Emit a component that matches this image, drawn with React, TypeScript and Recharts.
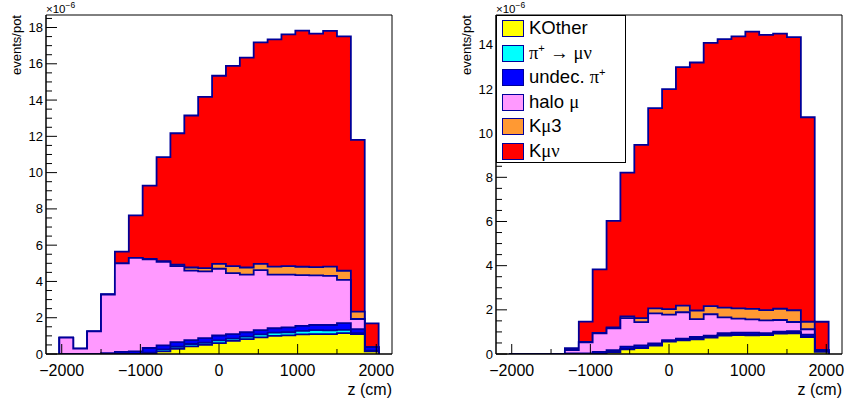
import React from 'react';
import { AreaChart, Area, XAxis, YAxis, ReferenceArea } from 'recharts';

// bin edges along z (cm), 23 bins
const binEdges = [-2030, -1854, -1677, -1500, -1324, -1147, -971, -794, -618, -441, -265, -88, 88, 265, 441, 618, 794, 971, 1147, 1324, 1500, 1677, 1853, 2030];

// left pad: top of each stack layer per bin, as drawn (units of 1e-6 events/pot)
const leftKmunu = [0.9, 0.3, 1.25, 3.28, 5.64, 7.64, 9.28, 10.85, 12.17, 13.15, 14.18, 15.34, 15.88, 16.34, 17.18, 17.35, 17.62, 17.83, 17.66, 17.81, 17.51, 11.8, 1.69];
const leftKmu3 = [0.9, 0.3, 1.25, 3.28, 5.0, 5.3, 5.25, 5.12, 4.92, 4.77, 4.73, 4.97, 4.84, 4.77, 4.97, 4.82, 4.84, 4.81, 4.79, 4.82, 4.59, 2.34, 0.38];
const leftHalo = [0.9, 0.3, 1.25, 3.28, 5.0, 5.3, 5.22, 5.08, 4.84, 4.6, 4.55, 4.7, 4.46, 4.38, 4.62, 4.38, 4.38, 4.35, 4.33, 4.31, 4.09, 1.93, 0.38];
const leftUndec = [0, 0, 0, 0.05, 0.12, 0.15, 0.33, 0.48, 0.65, 0.77, 0.87, 1.02, 1.1, 1.2, 1.32, 1.42, 1.47, 1.55, 1.6, 1.6, 1.7, 1.37, 0.38];
const leftPiMuNu = [0, 0, 0, 0, 0, 0, 0.08, 0.26, 0.4, 0.55, 0.62, 0.75, 0.85, 0.96, 1.08, 1.18, 1.2, 1.28, 1.32, 1.3, 1.33, 1.15, 0.18];
const leftKOther = [0, 0, 0, 0, 0, 0, 0.05, 0.15, 0.28, 0.42, 0.5, 0.6, 0.72, 0.82, 0.92, 1.0, 1.03, 1.08, 1.1, 1.1, 1.15, 1.1, 0.15];

// right pad
const rightKmunu = [0, 0, 0, 0, 0.26, 1.47, 3.83, 6.03, 8.21, 9.47, 11.13, 11.99, 12.99, 13.2, 14.09, 14.26, 14.38, 14.6, 14.45, 14.51, 14.35, 10.72, 1.46];
const rightKmu3 = [0, 0, 0, 0, 0.2, 0.55, 0.96, 1.2, 1.7, 1.62, 2.07, 2.03, 2.19, 1.97, 2.17, 2.1, 2.07, 2.04, 1.99, 2.05, 1.98, 1.46, 0.18];
const rightHalo = [0, 0, 0, 0, 0.18, 0.53, 0.94, 1.16, 1.62, 1.44, 1.84, 1.78, 1.89, 1.58, 1.8, 1.66, 1.6, 1.57, 1.52, 1.54, 1.45, 1.12, 0.18];
const rightUndec = [0, 0, 0, 0, 0.03, 0.03, 0.1, 0.18, 0.33, 0.39, 0.48, 0.63, 0.69, 0.77, 0.83, 0.94, 0.97, 0.97, 0.94, 1.01, 1.04, 0.88, 0.18];
const rightPiMuNu = [0, 0, 0, 0, 0, 0, 0, 0.1, 0.23, 0.29, 0.4, 0.58, 0.64, 0.68, 0.77, 0.86, 0.89, 0.88, 0.89, 0.95, 0.97, 0.79, 0.11];
const rightKOther = [0, 0, 0, 0, 0, 0, 0, 0.08, 0.21, 0.27, 0.38, 0.56, 0.62, 0.66, 0.74, 0.83, 0.86, 0.85, 0.86, 0.92, 0.94, 0.77, 0.1];

const xTicks = [-2000, -1500, -1000, -500, 0, 500, 1000, 1500, 2000];
const leftYTicks = [0, 0.5, 1, 1.5, 2, 2.5, 3, 3.5, 4, 4.5, 5, 5.5, 6, 6.5, 7, 7.5, 8, 8.5, 9, 9.5, 10, 10.5, 11, 11.5, 12, 12.5, 13, 13.5, 14, 14.5, 15, 15.5, 16, 16.5, 17, 17.5, 18, 18.5];
const rightYTicks = [0, 0.5, 1, 1.5, 2, 2.5, 3, 3.5, 4, 4.5, 5, 5.5, 6, 6.5, 7, 7.5, 8, 8.5, 9, 9.5, 10, 10.5, 11, 11.5, 12, 12.5, 13, 13.5, 14, 14.5, 15];

// drawn tallest first, like a ROOT THStack
const layers = [
  { key: 'kmunu', label: 'Kμν', color: '#ff0000' },
  { key: 'kmu3', label: 'Kμ3', color: '#ff9933' },
  { key: 'halo', label: 'halo μ', color: '#ff99ff' },
  { key: 'undec', label: 'undec. π+', color: '#0000ff' },
  { key: 'pimunu', label: 'π+ → μν', color: '#00ffff' },
  { key: 'kother', label: 'KOther', color: '#ffff00' },
];

const LINE = '#000099';
const FONT = '"Liberation Sans", Arial, Helvetica, sans-serif';
const GREEK = '"Liberation Serif", "DejaVu Serif", serif';

const buildRows = (tops: Record<string, number[]>) => {
  const zero: Record<string, number> = {};
  layers.forEach(l => { zero[l.key] = 0; });
  const rows: any[] = [{ z: binEdges[0], ...zero }];
  for (let i = 0; i < binEdges.length - 1; i++) {
    const r: any = { z: binEdges[i] };
    layers.forEach(l => { r[l.key] = tops[l.key][i]; });
    rows.push(r);
  }
  rows.push({ z: binEdges[binEdges.length - 1], ...zero });
  return rows;
};

const leftRows = buildRows({ kmunu: leftKmunu, kmu3: leftKmu3, halo: leftHalo, undec: leftUndec, pimunu: leftPiMuNu, kother: leftKOther });
const rightRows = buildRows({ kmunu: rightKmunu, kmu3: rightKmu3, halo: rightHalo, undec: rightUndec, pimunu: rightPiMuNu, kother: rightKOther });

const YTick = (props: any) => {
  const { x, y, payload } = props;
  const v = payload.value;
  const major = Math.abs(v % 2) < 1e-6;
  return (
    <g>
      <line x1={x + 3} y1={y} x2={x + 3 + (major ? 11 : 6)} y2={y} stroke="#000" />
      {major && (
        <text x={x} y={y} dy={4.6} textAnchor="end" fontSize={13} fontFamily={FONT} fill="#000">{v}</text>
      )}
    </g>
  );
};

const XTick = (props: any) => {
  const { x, y, payload } = props;
  const v = payload.value;
  const major = v % 1000 === 0;
  return (
    <g>
      <line x1={x} y1={y} x2={x} y2={y - (major ? 10 : 5)} stroke="#000" />
      {major && (
        <text x={x} y={y + 21.5} textAnchor="middle" fontSize={16} fontFamily={FONT} fill="#000">
          {v < 0 ? '\u2212' + Math.abs(v) : String(v)}
        </text>
      )}
    </g>
  );
};

const YNote = (props: any) => {
  const vb = props.viewBox;
  const bx = vb.x + 21;
  return (
    <g>
      <text x={bx} y={vb.y} transform={`rotate(-90, ${bx}, ${vb.y})`} textAnchor="end" fontSize={13} fontFamily={FONT} fill="#000">events/pot</text>
      <text x={vb.x + vb.width} y={vb.y - 2.3} fontSize={11.5} fontFamily={FONT} fill="#000">
        ×10<tspan dy={-5} fontSize={8.5}>−6</tspan>
      </text>
    </g>
  );
};

const XNote = (props: any) => {
  const vb = props.viewBox;
  return (
    <text x={vb.x + vb.width} y={vb.y + 41} textAnchor="end" fontSize={16} fontFamily={FONT} fill="#000">z (cm)</text>
  );
};

const Pad = ({ rows, yMax, yTicks, width }: { rows: any[]; yMax: number; yTicks: number[]; width: number }) => (
  <AreaChart width={width} height={405} data={rows} margin={{ top: 15, right: width === 420 ? 28 : 3, bottom: 0, left: 0 }}>
    {layers.map(l => (
      <Area
        key={l.key}
        type="stepAfter"
        dataKey={l.key}
        fill={l.color}
        fillOpacity={1}
        stroke={LINE}
        strokeWidth={1.8}
        dot={false}
        activeDot={false}
        isAnimationActive={false}
      />
    ))}
    <ReferenceArea x1={-2200} x2={2200} y1={0} y2={yMax} fill="none" stroke="#000" strokeWidth={1} />
    <XAxis
      dataKey="z"
      type="number"
      domain={[-2200, 2200]}
      ticks={xTicks}
      interval={0}
      height={51}
      tickSize={0}
      tickMargin={0}
      axisLine={{ stroke: '#000' }}
      tick={<XTick />}
      label={<XNote />}
      allowDataOverflow
    />
    <YAxis
      type="number"
      domain={[0, yMax]}
      ticks={yTicks}
      interval={0}
      width={46}
      tickSize={0}
      tickMargin={3}
      axisLine={{ stroke: '#000' }}
      tick={<YTick />}
      label={<YNote />}
      allowDataOverflow
    />
  </AreaChart>
);

const legendRows = [
  { color: '#ffff00', text: <>KOther</> },
  { color: '#00ffff', text: <><span style={{ fontFamily: GREEK }}>π</span><sup style={{ fontSize: '0.6em', lineHeight: 0 }}>+</sup> → <span style={{ fontFamily: GREEK }}>μν</span></> },
  { color: '#0000ff', text: <>undec. <span style={{ fontFamily: GREEK }}>π</span><sup style={{ fontSize: '0.6em', lineHeight: 0 }}>+</sup></> },
  { color: '#ff99ff', text: <>halo <span style={{ fontFamily: GREEK }}>μ</span></> },
  { color: '#ff9933', text: <>K<span style={{ fontFamily: GREEK }}>μ</span>3</> },
  { color: '#ff0000', text: <>K<span style={{ fontFamily: GREEK }}>μν</span></> },
];

export default function App() {
  return (
    <div style={{ position: 'absolute', left: 0, top: 0, width: 845, height: 405, background: '#fff' }}>
      <div style={{ position: 'absolute', left: 0, top: 0 }}>
        <Pad rows={leftRows} yMax={18.69} yTicks={leftYTicks} width={420} />
      </div>
      <div style={{ position: 'absolute', left: 450, top: 0 }}>
        <Pad rows={rightRows} yMax={15.35} yTicks={rightYTicks} width={395} />
      </div>
      <div
        style={{
          position: 'absolute', left: 496, top: 15, width: 128, height: 146,
          border: '1px solid #000', background: '#fff', fontFamily: FONT, fontSize: 18.5, color: '#000',
        }}
      >
        {legendRows.map((r, i) => (
          <div key={i} style={{ position: 'absolute', left: 0, top: i * 24.6, height: 24.6, width: 128 }}>
            <div style={{ position: 'absolute', left: 5, top: 4, width: 20, height: 15, background: r.color, border: `1.5px solid ${LINE}` }} />
            <div style={{ position: 'absolute', left: 32, top: 0, lineHeight: '24.6px', whiteSpace: 'nowrap' }}>{r.text}</div>
          </div>
        ))}
      </div>
    </div>
  );
}
